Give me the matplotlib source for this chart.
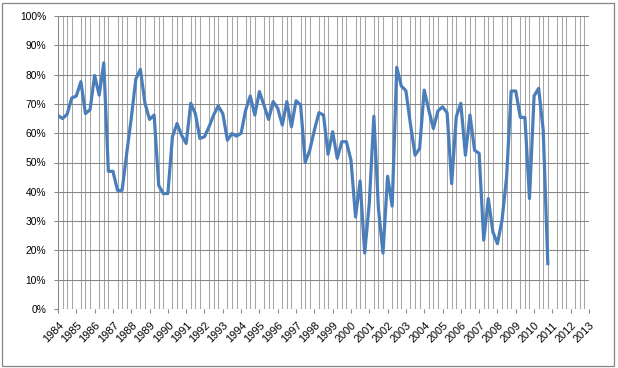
import matplotlib
matplotlib.use("Agg")
import matplotlib.pyplot as plt
from matplotlib.patches import Rectangle
from matplotlib.ticker import FixedLocator, FuncFormatter
import matplotlib.transforms as mtransforms
import numpy as np

plt.rcParams['font.family'] = ['Liberation Sans', 'DejaVu Sans']

start_year = 1984
end_year = 2013
# quarterly values (%), 1984 Q1 .. 2010 Q4
values = [
    66, 65, 66.5, 72, 72.7, 77.6, 66.7, 68, 79.7, 73, 84, 47, 47, 40.5, 40.5, 53, 65, 78.5, 81.8,
    70.2, 64.7, 66.2, 42.2, 39.4, 39.4, 58.8, 63.3, 59.3, 56.5, 70.2, 66.7, 58.2, 58.8, 62.2, 66.2, 69.3, 66.7, 57.6, 59.9,
    59, 60, 67.9, 72.7, 66.2, 74.2, 69.6, 64.7, 70.8, 68.5, 62.8, 70.8, 62.2, 71.1, 69.6, 50, 54.2, 61,
    67, 66.2, 52.8, 60.5, 51.4, 57.1, 57.1, 50.8, 31.4, 43.7, 19.1, 36, 65.8, 34.3, 19.1, 45.3, 35.1, 82.5, 76.1, 74.5, 63,
    52.5, 54.8, 74.7, 67.9, 61.6, 67.6, 69, 67, 42.8, 65.6, 70.2, 52.5, 66.2, 54.2, 53.1, 23.5, 37.7, 26.3, 22.3,
    30.3, 45.1, 74.4, 74.4, 65.4, 65.4, 37.7, 72.7, 75.3, 61, 15.5,
]
years = list(range(start_year, end_year + 1))
y_ticks = list(range(0, 101, 10))

x = start_year + np.arange(len(values)) / 4.0

W, H = 618, 368
fig = plt.figure(figsize=(W / 100, H / 100), dpi=100)
fig.patches.append(Rectangle((2 / W, 2 / H), 612 / W, 363 / H, transform=fig.transFigure,
                             fill=False, edgecolor='#868686', linewidth=0.9))

ax = fig.add_axes([58 / W, 1 - 309 / H, (589 - 58) / W, (309 - 16) / H])
ax.set_xlim(start_year, end_year)
ax.set_ylim(0, 100)

# vertical gridlines at each quarter
quarters = start_year + np.arange(0, (end_year - start_year) * 4 + 1) / 4.0
ax.xaxis.set_minor_locator(FixedLocator(quarters))
ax.grid(which='minor', axis='x', color='#a6a6a6', linewidth=0.75)
ax.set_yticks(y_ticks)
ax.grid(which='major', axis='y', color='#868686', linewidth=0.75)
ax.set_axisbelow(True)

ax.plot(x, values, color='#4a7ebb', linewidth=2.3, solid_joinstyle='round', zorder=3)

for s in ['top', 'right', 'bottom']:
    ax.spines[s].set_visible(False)
ax.spines['left'].set_color('#868686')
ax.spines['left'].set_linewidth(0.75)
ax.axhline(0, color='#868686', linewidth=0.75, zorder=2)

ax.yaxis.set_major_formatter(FuncFormatter(lambda v, p: f"{int(v)}%"))
ax.tick_params(axis='y', which='major', length=3, width=0.75, color='#868686', pad=5.5,
               labelsize=7.4, labelcolor='black')
ax.set_xticks(years)
ax.set_xticklabels([str(y) for y in years])
ax.tick_params(axis='x', which='major', length=3, width=0.75, color='#868686', pad=2,
               labelsize=7.9, labelcolor='black')
ax.tick_params(axis='x', which='minor', length=0)

offset = mtransforms.ScaledTranslation(4 / 100, -8 / 100, fig.dpi_scale_trans)
for lbl in ax.get_xticklabels():
    lbl.set_rotation(45)
    lbl.set_ha('right')
    lbl.set_va('center')
    lbl.set_rotation_mode('anchor')
    lbl.set_transform(lbl.get_transform() + offset)

fig.savefig('out.png', dpi=100)
